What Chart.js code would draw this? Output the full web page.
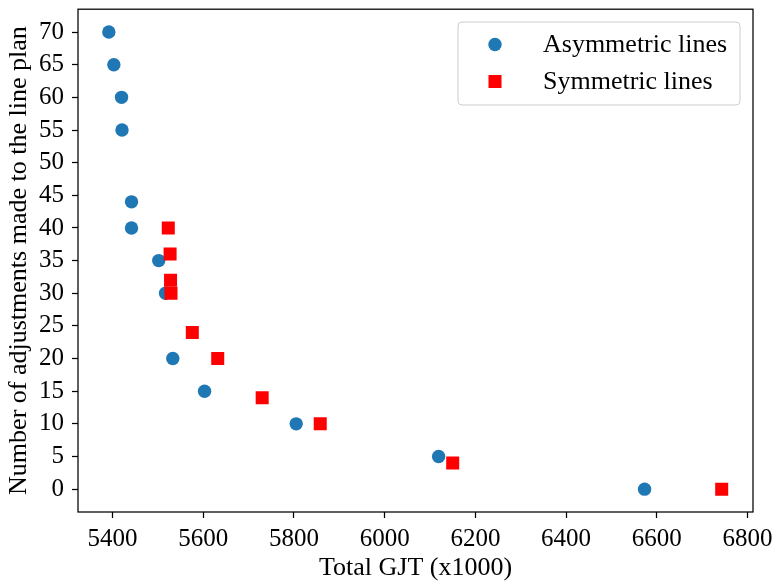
<!DOCTYPE html>
<html>
<head>
<meta charset="utf-8">
<script src="https://cdn.jsdelivr.net/npm/chart.js@4/dist/chart.umd.min.js"></script>
<style>
  html, body { margin: 0; padding: 0; background: #fff; }
  #wrap { width: 775px; height: 582px; }
</style>
</head>
<body>
<div id="wrap"><canvas id="c" width="775" height="582"></canvas></div>
<script>
// Total GJT (x1000) against the number of line-plan adjustments
const asymGJT = [5392, 5403, 5420, 5421, 5442, 5442, 5502, 5517, 5533, 5603, 5805, 6119, 6573];
const asymAdj = [70, 65, 60, 55, 44, 40, 35, 30, 20, 15, 10, 5, 0];
const symGJT = [5523, 5527, 5528, 5529, 5576, 5632, 5730, 5858, 6150, 6743];
const symAdj = [40, 36, 32, 30, 24, 20, 14, 10, 4, 0];

const xTicks = [5400, 5600, 5800, 6000, 6200, 6400, 6600, 6800];
const yTicks = [0, 5, 10, 15, 20, 25, 30, 35, 40, 45, 50, 55, 60, 65, 70];

const seriesNames = ['Asymmetric lines', 'Symmetric lines'];
const xTitle = 'Total GJT (x1000)';
const yTitle = 'Number of adjustments made to the line plan';

const SERIF = '"Liberation Serif", "Times New Roman", serif';
const BLUE = '#1f77b4';
const RED = '#ff0000';

const toPoints = (xs, ys) => xs.map((x, i) => ({ x: x, y: ys[i] }));

// Black frame round the plot area
const framePlugin = {
  id: 'frame',
  afterDraw(chart) {
    const { ctx, chartArea: a } = chart;
    ctx.save();
    ctx.strokeStyle = '#000';
    ctx.lineWidth = 1.25;
    ctx.strokeRect(a.left, a.top, a.right - a.left, a.bottom - a.top);
    ctx.restore();
  }
};

// Boxed legend in the upper right corner of the plot
const boxLegend = {
  id: 'boxLegend',
  afterDraw(chart) {
    const { ctx } = chart;
    const x0 = 458, y0 = 22, w = 282, h = 83, r = 4;
    ctx.save();
    ctx.beginPath();
    ctx.roundRect(x0, y0, w, h, r);
    ctx.fillStyle = 'rgba(255,255,255,0.8)';
    ctx.fill();
    ctx.strokeStyle = '#cccccc';
    ctx.lineWidth = 1;
    ctx.stroke();
    ctx.font = '26px ' + SERIF;
    ctx.textBaseline = 'middle';
    ctx.textAlign = 'left';
    const rows = [44.5, 81.5];
    chart.data.datasets.forEach((ds, i) => {
      const cy = rows[i];
      ctx.fillStyle = ds.backgroundColor;
      if (ds.pointStyle === 'rect') {
        ctx.fillRect(495 - 6.5, cy - 6.5, 13, 13);
      } else {
        ctx.beginPath();
        ctx.arc(495, cy, 6.7, 0, Math.PI * 2);
        ctx.fill();
      }
      ctx.fillStyle = '#000';
      ctx.fillText(ds.label, 543, cy + 1);
    });
    ctx.restore();
  }
};

const tickFont = { family: SERIF, size: 25 };
const titleFont = { family: SERIF, size: 26, lineHeight: 1.0 };

new Chart(document.getElementById('c'), {
  type: 'scatter',
  data: {
    datasets: [
      {
        label: seriesNames[0],
        data: toPoints(asymGJT, asymAdj),
        pointStyle: 'circle',
        pointRadius: 6.7,
        pointHoverRadius: 6.7,
        backgroundColor: BLUE,
        borderWidth: 0,
        order: 1
      },
      {
        label: seriesNames[1],
        data: toPoints(symGJT, symAdj),
        pointStyle: 'rect',
        pointRadius: 9.2,
        pointHoverRadius: 9.2,
        backgroundColor: RED,
        borderWidth: 0,
        order: 0
      }
    ]
  },
  options: {
    responsive: false,
    animation: false,
    events: [],
    layout: { padding: { left: 0, right: 22, top: 9, bottom: 1 } },
    plugins: {
      legend: { display: false },
      tooltip: { enabled: false }
    },
    scales: {
      x: {
        type: 'linear',
        min: 5324,
        max: 6812,
        afterBuildTicks(scale) { scale.ticks = xTicks.map(v => ({ value: v })); },
        afterFit(scale) {
          scale.height = 69;
          scale.paddingLeft = 0;
          scale.paddingRight = 0;
        },
        border: { display: false },
        grid: {
          drawOnChartArea: false,
          drawTicks: true,
          tickLength: 6,
          tickColor: '#000',
          tickWidth: 1.25
        },
        ticks: {
          font: tickFont,
          color: '#000',
          padding: 6,
          maxRotation: 0,
          callback: v => String(v)
        },
        title: {
          display: true,
          text: xTitle,
          font: titleFont,
          color: '#000',
          padding: { top: 0, bottom: 0 }
        }
      },
      y: {
        type: 'linear',
        min: -3.5,
        max: 73.5,
        afterBuildTicks(scale) { scale.ticks = yTicks.map(v => ({ value: v })); },
        afterFit(scale) {
          scale.width = 78;
          scale.paddingTop = 0;
          scale.paddingBottom = 0;
        },
        border: { display: false },
        grid: {
          drawOnChartArea: false,
          drawTicks: true,
          tickLength: 6,
          tickColor: '#000',
          tickWidth: 1.25
        },
        ticks: {
          font: tickFont,
          color: '#000',
          padding: 8,
          callback: v => String(v)
        },
        title: {
          display: true,
          text: yTitle,
          font: titleFont,
          color: '#000',
          padding: { top: 6, bottom: 0 }
        }
      }
    }
  },
  plugins: [framePlugin, boxLegend]
});
</script>
</body>
</html>
